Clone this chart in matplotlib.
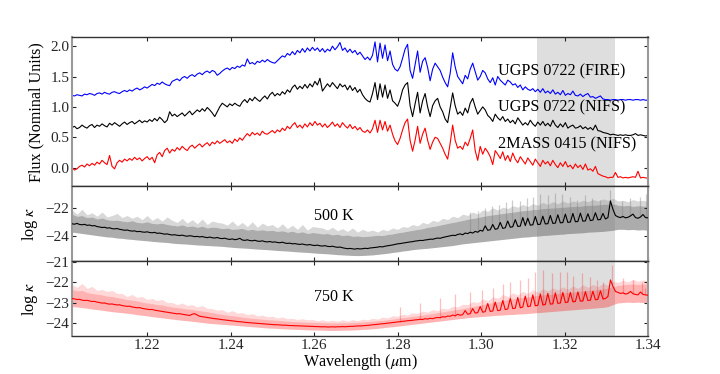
import numpy as np
import matplotlib
matplotlib.use('Agg')
from matplotlib import pyplot as plt
from matplotlib.ticker import FormatStrFormatter

# ---- spectra (top panel), sampled every 0.0006 um from 1.202 to 1.340 ----
fire_0722 = [1.19, 1.18, 1.20, 1.19, 1.18, 1.21, 1.20, 1.22, 1.21, 1.19, 1.22,
             1.23, 1.21, 1.24, 1.22, 1.21, 1.24, 1.25, 1.23, 1.22, 1.25,
             1.27, 1.25, 1.28, 1.26, 1.29, 1.31, 1.28, 1.30, 1.33, 1.31,
             1.34, 1.37, 1.35, 1.39, 1.37, 1.41, 1.38, 1.36, 1.35, 1.42,
             1.44, 1.46, 1.43, 1.48, 1.50, 1.47, 1.51, 1.53, 1.50, 1.54,
             1.56, 1.53, 1.57, 1.59, 1.56, 1.60, 1.58, 1.52, 1.55, 1.59,
             1.62, 1.64, 1.61, 1.65, 1.63, 1.67, 1.65, 1.69, 1.67, 1.79,
             1.71, 1.73, 1.70, 1.75, 1.73, 1.77, 1.74, 1.78, 1.75, 1.73,
             1.72, 1.76, 1.80, 1.84, 1.82, 1.88, 1.85, 1.91, 1.86, 1.93,
             1.89, 1.96, 1.90, 1.97, 1.92, 1.98, 1.93, 1.97, 1.91, 1.96,
             1.90, 1.95, 1.92, 2.00, 1.94, 1.99, 2.06, 1.93, 1.97, 1.90,
             1.95, 1.89, 1.93, 1.86, 1.90, 1.84, 1.78, 1.82, 1.77, 1.85,
             2.07, 1.74, 2.05, 1.80, 2.02, 1.76, 1.92, 1.70, 1.62, 1.59,
             1.66, 1.80, 1.95, 2.03, 1.60, 1.47, 1.70, 1.92, 1.57, 1.75,
             1.81, 1.65, 1.43, 1.62, 1.72, 1.66, 1.60, 1.49, 1.40, 1.33,
             1.55, 1.89, 1.66, 1.50, 1.44, 1.38, 1.52, 1.46, 1.62, 1.72,
             1.58, 1.44, 1.50, 1.60, 1.56, 1.46, 1.40, 1.48, 1.36, 1.50,
             1.44, 1.40, 1.36, 1.44, 1.41, 1.36, 1.38, 1.32, 1.36, 1.28,
             1.33, 1.29, 1.27, 1.30, 1.25, 1.29, 1.24, 1.30, 1.23, 1.26,
             1.22, 1.28, 1.21, 1.24, 1.20, 1.27, 1.19, 1.22, 1.20, 1.26,
             1.19, 1.18, 1.21, 1.17, 1.20, 1.22, 1.16, 1.17, 1.14, 1.16,
             1.18, 1.13, 1.12, 1.12, 1.11, 1.12, 1.12, 1.11, 1.12, 1.12,
             1.11, 1.12, 1.12, 1.11, 1.12, 1.12, 1.11, 1.12, 1.11, 1.11]

nifs_0722 = [0.66, 0.68, 0.64, 0.66, 0.70, 0.67, 0.65, 0.69, 0.71, 0.66, 0.70,
             0.68, 0.72, 0.69, 0.67, 0.73, 0.70, 0.74, 0.71, 0.68, 0.72,
             0.75, 0.71, 0.74, 0.76, 0.72, 0.75, 0.78, 0.74, 0.77, 0.75,
             0.79, 0.76, 0.81, 0.77, 0.83, 0.79, 0.74, 0.78, 0.92, 0.85,
             0.88, 0.84, 0.87, 0.90, 0.85, 0.89, 0.93, 0.87, 0.91, 0.95,
             0.92, 0.97, 0.93, 0.99, 0.95, 0.90, 0.84, 0.92, 1.00, 1.06,
             1.03, 1.00, 1.05, 1.02, 1.06, 1.03, 1.01, 1.08, 1.12, 1.07,
             1.14, 1.10, 1.16, 1.12, 1.09, 1.14, 1.18, 1.13, 1.20, 1.24,
             1.18, 1.22, 1.19, 1.25, 1.21, 1.28, 1.24, 1.32, 1.36, 1.29,
             1.34, 1.30, 1.37, 1.31, 1.38, 1.33, 1.42, 1.36, 1.47, 1.26,
             1.32, 1.38, 1.33, 1.40, 1.35, 1.30, 1.38, 1.33, 1.36, 1.28,
             1.35, 1.27, 1.32, 1.24, 1.29, 1.20, 1.14, 1.10, 1.08, 1.22,
             1.40, 1.12, 1.38, 1.16, 1.36, 1.14, 1.28, 1.10, 1.06, 1.01,
             1.12, 1.28, 1.36, 1.40, 1.02, 0.84, 1.05, 1.24, 0.90, 1.10,
             1.22, 1.00, 0.84, 1.02, 1.10, 1.14, 1.00, 0.92, 0.80, 0.74,
             0.98, 1.23, 1.02, 0.88, 0.92, 0.86, 0.98, 0.90, 1.06, 1.14,
             1.00, 0.88, 0.94, 1.00, 0.95, 0.86, 0.82, 0.76, 0.88, 0.82,
             0.78, 0.84, 0.76, 0.80, 0.74, 0.78, 0.72, 0.82, 0.76, 0.70,
             0.74, 0.70, 0.78, 0.72, 0.68, 0.75, 0.70, 0.76, 0.69, 0.73,
             0.68, 0.78, 0.70, 0.66, 0.72, 0.67, 0.74, 0.65, 0.68, 0.70,
             0.65, 0.66, 0.69, 0.64, 0.67, 0.63, 0.66, 0.62, 0.70, 0.61,
             0.60, 0.58, 0.57, 0.56, 0.54, 0.55, 0.54, 0.53, 0.54, 0.53,
             0.54, 0.53, 0.53, 0.54, 0.56, 0.53, 0.54, 0.53, 0.52, 0.53]

nifs_0415 = [0.00, -0.04, -0.02, 0.02, 0.04, 0.01, 0.06, 0.03, 0.07, 0.04, 0.09,
             0.06, 0.12, 0.08, 0.05, 0.20, 0.02, -0.02, 0.08, 0.12, 0.09,
             0.14, 0.11, 0.15, 0.12, 0.17, 0.13, 0.16, 0.11, 0.15, 0.18,
             0.13, 0.17, 0.08, 0.21, 0.25, 0.18, 0.28, 0.32, 0.24, 0.30,
             0.27, 0.33, 0.29, 0.35, 0.31, 0.28, 0.34, 0.37, 0.32, 0.36,
             0.39, 0.34, 0.38, 0.41, 0.36, 0.42, 0.39, 0.44, 0.40, 0.43,
             0.46, 0.41, 0.44, 0.40, 0.47, 0.43, 0.49, 0.45, 0.51, 0.56,
             0.52, 0.58, 0.54, 0.57, 0.53, 0.60, 0.56, 0.55, 0.58, 0.61,
             0.57, 0.62, 0.59, 0.65, 0.61, 0.68, 0.64, 0.70, 0.74, 0.66,
             0.70, 0.65, 0.72, 0.67, 0.74, 0.69, 0.76, 0.70, 0.73, 0.67,
             0.72, 0.66, 0.70, 0.75, 0.68, 0.72, 0.66, 0.74, 0.69, 0.65,
             0.71, 0.64, 0.68, 0.62, 0.66, 0.60, 0.58, 0.62, 0.57, 0.64,
             0.78, 0.58, 0.78, 0.62, 0.76, 0.60, 0.70, 0.55, 0.44, 0.38,
             0.48, 0.62, 0.74, 0.80, 0.45, 0.27, 0.45, 0.68, 0.40, 0.55,
             0.65, 0.45, 0.30, 0.42, 0.50, 0.48, 0.40, 0.32, 0.22, 0.14,
             0.40, 0.70, 0.45, 0.32, 0.35, 0.30, 0.42, 0.36, 0.48, 0.62,
             0.28, 0.12, 0.35, 0.22, 0.32, 0.26, 0.18, 0.05, 0.28, 0.22,
             0.15, 0.26, 0.12, 0.20, 0.10, 0.24, 0.14, 0.08, 0.18, 0.12,
             0.06, 0.16, 0.10, 0.04, 0.14, 0.08, 0.02, 0.12, 0.06, 0.10,
             0.03, 0.12, 0.05, 0.00, 0.08, 0.02, 0.10, 0.01, 0.04, -0.02,
             0.06, 0.00, 0.04, -0.03, 0.06, -0.04, -0.02, -0.06, 0.02, -0.10,
             -0.12, -0.14, -0.15, -0.17, -0.16, -0.16, -0.08, -0.16, -0.15, -0.17,
             -0.16, -0.17, -0.16, -0.15, -0.16, -0.06, -0.17, -0.16, -0.17, -0.17]

# ---- smoothed opacity, log kappa (same 0.0006 um grid) ----
kappa_500 = [-23.15, -23.18, -23.12, -23.20, -23.22, -23.19, -23.26, -23.24, -23.30, -23.28, -23.35,
             -23.38, -23.42, -23.40, -23.46, -23.44, -23.50, -23.52, -23.49, -23.55, -23.58,
             -23.62, -23.60, -23.65, -23.68, -23.66, -23.72, -23.70, -23.74, -23.76, -23.73,
             -23.78, -23.80, -23.77, -23.84, -23.82, -23.86, -23.90, -23.88, -23.93, -23.96,
             -23.94, -23.98, -24.00, -23.97, -24.02, -24.05, -24.01, -24.04, -24.08, -24.06,
             -24.10, -24.07, -24.12, -24.15, -24.11, -24.16, -24.18, -24.14, -24.20, -24.22,
             -24.19, -24.25, -24.28, -24.24, -24.30, -24.27, -24.20, -24.32, -24.35, -24.31,
             -24.36, -24.38, -24.34, -24.40, -24.42, -24.38, -24.44, -24.46, -24.43, -24.48,
             -24.46, -24.50, -24.52, -24.48, -24.54, -24.57, -24.55, -24.60, -24.58, -24.62,
             -24.64, -24.61, -24.66, -24.68, -24.65, -24.70, -24.72, -24.69, -24.74, -24.76,
             -24.73, -24.78, -24.80, -24.77, -24.82, -24.85, -24.83, -24.88, -24.92, -24.95,
             -24.93, -24.96, -24.98, -24.94, -24.97, -24.95, -24.92, -24.94, -24.90, -24.88,
             -24.86, -24.84, -24.80, -24.82, -24.77, -24.74, -24.71, -24.68, -24.64, -24.60,
             -24.58, -24.55, -24.52, -24.49, -24.46, -24.44, -24.40, -24.38, -24.35, -24.36,
             -24.32, -24.30, -24.26, -24.27, -24.22, -24.18, -24.20, -24.14, -24.10, -24.06,
             -24.02, -23.98, -24.00, -23.92, -23.88, -23.94, -23.82, -23.86, -23.76, -23.82,
             -23.70, -23.76, -23.62, -23.68, -23.30, -23.62, -23.58, -23.20, -23.55, -23.50,
             -23.05, -23.48, -23.44, -22.95, -23.40, -23.36, -22.85, -23.34, -23.32, -22.70,
             -23.28, -22.75, -23.25, -23.22, -22.62, -23.20, -23.18, -22.60, -23.16, -23.14,
             -22.55, -23.12, -23.10, -22.50, -23.08, -23.06, -22.45, -23.05, -23.02, -22.40,
             -23.00, -22.98, -22.38, -22.96, -22.94, -22.42, -22.92, -22.88, -22.35, -22.86,
             -22.84, -22.40, -22.80, -22.70, -21.50, -22.10, -22.55, -22.65, -22.70, -22.62,
             -22.72, -22.68, -22.58, -22.45, -22.70, -22.75, -22.66, -22.48, -22.70, -22.72]

kappa_750 = [-22.80, -22.82, -22.85, -22.84, -22.88, -22.90, -22.89, -22.92, -22.95, -22.94, -22.98,
             -23.00, -23.03, -23.02, -23.06, -23.08, -23.07, -23.10, -23.12, -23.11, -23.15,
             -23.17, -23.19, -23.18, -23.22, -23.24, -23.26, -23.25, -23.29, -23.31, -23.33,
             -23.35, -23.34, -23.38, -23.40, -23.42, -23.44, -23.46, -23.48, -23.50, -23.52,
             -23.54, -23.56, -23.55, -23.58, -23.60, -23.62, -23.64, -23.58, -23.55, -23.62,
             -23.68, -23.70, -23.72, -23.74, -23.76, -23.78, -23.80, -23.81, -23.83, -23.85,
             -23.86, -23.88, -23.89, -23.91, -23.92, -23.94, -23.95, -23.96, -23.98, -23.99,
             -24.00, -24.01, -24.02, -24.03, -24.04, -24.05, -24.06, -24.07, -24.08, -24.09,
             -24.10, -24.10, -24.11, -24.12, -24.12, -24.13, -24.14, -24.14, -24.15, -24.15,
             -24.16, -24.16, -24.17, -24.17, -24.18, -24.18, -24.19, -24.19, -24.20, -24.20,
             -24.20, -24.21, -24.21, -24.20, -24.21, -24.20, -24.20, -24.19, -24.20, -24.19,
             -24.18, -24.18, -24.17, -24.16, -24.16, -24.15, -24.14, -24.13, -24.12, -24.10,
             -24.09, -24.08, -24.06, -24.05, -24.04, -24.02, -24.01, -23.99, -23.98, -23.96,
             -23.95, -23.93, -23.92, -23.90, -23.89, -23.88, -23.86, -23.85, -23.83, -23.84,
             -23.80, -23.82, -23.78, -23.80, -23.76, -23.74, -23.75, -23.70, -23.72, -23.67,
             -23.68, -23.62, -23.66, -23.58, -23.63, -23.60, -23.40, -23.58, -23.55, -23.30,
             -23.52, -23.50, -23.20, -23.48, -23.45, -23.05, -23.44, -23.42, -22.98, -23.40,
             -23.38, -22.90, -23.35, -23.32, -22.80, -23.30, -23.28, -22.75, -23.26, -23.22,
             -22.68, -23.20, -23.18, -22.62, -23.16, -23.14, -22.58, -23.12, -23.10, -22.55,
             -23.08, -23.06, -22.52, -23.04, -23.02, -22.50, -23.00, -22.98, -22.50, -22.96,
             -22.95, -22.48, -22.93, -22.92, -22.46, -22.90, -22.88, -22.44, -22.86, -22.84,
             -22.42, -22.82, -22.80, -22.70, -21.88, -22.20, -22.45, -22.50, -22.55, -22.52,
             -22.58, -22.55, -22.45, -22.56, -22.60, -22.62, -22.48, -22.60, -22.62, -22.64]

# ---- full resolution opacity envelope (0.0012 um grid) ----
band500_hi = [-22.45, -22.60, -22.55, -22.70, -22.65, -22.80, -22.72, -22.85, -22.90, -22.88,
              -22.95, -23.00, -22.92, -23.05, -23.08, -23.00, -23.12, -23.15, -23.10, -23.20,
              -23.25, -23.30, -23.22, -23.35, -23.30, -23.40, -23.32, -23.45, -23.38, -23.42,
              -23.50, -23.45, -23.55, -23.52, -23.48, -23.60, -23.55, -23.62, -23.58, -23.65,
              -23.62, -23.70, -23.65, -23.75, -23.68, -23.80, -23.72, -23.85, -23.78, -23.82,
              -23.88, -23.85, -23.95, -23.90, -24.00, -23.95, -24.05, -24.02, -24.08, -24.05,
              -24.02, -23.98, -24.00, -23.92, -23.88, -23.80, -23.75, -23.68, -23.62, -23.55,
              -23.50, -23.40, -23.35, -23.28, -23.20, -23.12, -23.05, -22.98, -22.90, -22.82,
              -22.75, -22.70, -22.62, -22.55, -22.50, -22.45, -22.40, -22.35, -22.30, -22.25,
              -22.20, -22.18, -22.12, -22.10, -22.05, -22.02, -22.00, -21.98, -21.95, -21.92,
              -21.90, -21.88, -21.85, -21.82, -21.80, -21.78, -21.75, -21.72, -21.70, -21.80,
              -21.85, -21.82, -21.88, -21.84, -21.86, -21.90]
band500_lo = [-23.75, -23.80, -23.85, -23.90, -23.95, -24.00, -24.05, -24.10, -24.12, -24.18,
              -24.20, -24.25, -24.28, -24.32, -24.35, -24.38, -24.42, -24.45, -24.48, -24.50,
              -24.55, -24.58, -24.60, -24.62, -24.65, -24.68, -24.70, -24.72, -24.74, -24.76,
              -24.78, -24.82, -24.85, -24.88, -24.90, -24.92, -24.95, -24.98, -25.00, -25.02,
              -25.05, -25.08, -25.10, -25.12, -25.15, -25.18, -25.20, -25.22, -25.25, -25.28,
              -25.30, -25.32, -25.35, -25.38, -25.40, -25.42, -25.44, -25.45, -25.44, -25.42,
              -25.40, -25.36, -25.32, -25.28, -25.22, -25.18, -25.12, -25.08, -25.02, -24.98,
              -24.95, -24.92, -24.88, -24.84, -24.80, -24.76, -24.72, -24.66, -24.60, -24.56,
              -24.52, -24.48, -24.44, -24.40, -24.36, -24.32, -24.28, -24.24, -24.20, -24.16,
              -24.12, -24.10, -24.06, -24.04, -24.00, -23.98, -23.95, -23.92, -23.90, -23.86,
              -23.84, -23.82, -23.80, -23.76, -23.74, -23.72, -23.70, -23.66, -23.62, -23.55,
              -23.55, -23.58, -23.56, -23.60, -23.58, -23.62]
# light spiky fringe above the envelope
fringe500 = [-22.15, -22.45, -22.10, -22.50, -22.35, -22.60, -22.30, -22.65, -22.55, -22.40,
             -22.70, -22.55, -22.75, -22.60, -22.85, -22.55, -22.90, -22.70, -22.95, -22.65,
             -22.90, -23.05, -22.75, -23.10, -22.85, -23.15, -22.80, -23.20, -22.95, -23.05,
             -23.10, -23.25, -22.95, -23.30, -23.05, -23.35, -23.00, -23.40, -23.10, -23.30,
             -23.20, -23.45, -23.15, -23.50, -23.25, -23.55, -23.20, -23.60, -23.35, -23.40,
             -23.45, -23.60, -23.40, -23.65, -23.50, -23.70, -23.45, -23.75, -23.55, -23.70,
             -23.60, -23.75, -23.55, -23.65, -23.45, -23.55, -23.35, -23.40, -23.20, -23.30,
             -23.05, -23.15, -22.90, -23.00, -22.75, -22.85, -22.60, -22.70, -22.45, -22.55,
             -22.30, -22.45, -22.15, -22.25, -22.00, -22.15, -21.95, -22.05, -21.85, -21.95,
             -21.75, -21.90, -21.70, -21.80, -21.60, -21.75, -21.55, -21.70, -21.50, -21.65,
             -21.50, -21.60, -21.45, -21.55, -21.40, -21.50, -21.35, -21.45, -21.30, -21.50,
             -21.45, -21.55, -21.40, -21.50, -21.45, -21.55]

band750_hi = [-22.35, -22.42, -22.40, -22.50, -22.55, -22.58, -22.62, -22.68, -22.70, -22.75,
              -22.80, -22.85, -22.88, -22.92, -22.98, -23.02, -23.05, -23.10, -23.12, -23.18,
              -23.22, -23.25, -23.28, -23.32, -23.35, -23.38, -23.42, -23.45, -23.50, -23.55,
              -23.58, -23.62, -23.65, -23.68, -23.72, -23.75, -23.78, -23.80, -23.82, -23.85,
              -23.86, -23.88, -23.90, -23.92, -23.94, -23.95, -23.96, -23.97, -23.98, -23.99,
              -24.00, -24.00, -24.01, -24.01, -24.00, -24.00, -23.99, -23.98, -23.96, -23.94,
              -23.92, -23.90, -23.88, -23.85, -23.82, -23.78, -23.75, -23.72, -23.68, -23.65,
              -23.62, -23.58, -23.54, -23.50, -23.46, -23.42, -23.38, -23.34, -23.30, -23.25,
              -23.20, -23.15, -23.10, -23.05, -23.00, -22.95, -22.90, -22.85, -22.82, -22.78,
              -22.75, -22.72, -22.68, -22.65, -22.62, -22.60, -22.58, -22.55, -22.52, -22.50,
              -22.48, -22.45, -22.42, -22.40, -22.38, -22.36, -22.32, -22.28, -22.20, -22.15,
              -22.12, -22.10, -22.08, -22.10, -22.08, -22.06]
band750_lo = [-23.20, -23.22, -23.25, -23.28, -23.32, -23.35, -23.38, -23.42, -23.45, -23.48,
              -23.50, -23.53, -23.56, -23.60, -23.63, -23.66, -23.70, -23.73, -23.76, -23.79,
              -23.82, -23.85, -23.88, -23.90, -23.93, -23.96, -23.99, -24.02, -24.04, -24.06,
              -24.08, -24.10, -24.12, -24.14, -24.16, -24.18, -24.20, -24.22, -24.24, -24.26,
              -24.27, -24.28, -24.30, -24.31, -24.32, -24.33, -24.34, -24.35, -24.36, -24.36,
              -24.37, -24.38, -24.38, -24.38, -24.37, -24.37, -24.36, -24.35, -24.33, -24.32,
              -24.30, -24.28, -24.25, -24.22, -24.20, -24.17, -24.14, -24.11, -24.08, -24.05,
              -24.02, -23.99, -23.96, -23.93, -23.90, -23.87, -23.84, -23.81, -23.78, -23.75,
              -23.73, -23.71, -23.69, -23.67, -23.65, -23.63, -23.62, -23.60, -23.59, -23.57,
              -23.56, -23.54, -23.52, -23.50, -23.48, -23.46, -23.44, -23.42, -23.40, -23.38,
              -23.36, -23.34, -23.32, -23.30, -23.28, -23.26, -23.24, -23.20, -23.10, -23.02,
              -23.00, -22.98, -23.00, -22.98, -23.00, -22.98]
fringe750 = [-22.10, -22.25, -22.05, -22.30, -22.20, -22.40, -22.35, -22.45, -22.40, -22.55,
             -22.55, -22.70, -22.60, -22.75, -22.70, -22.85, -22.80, -22.90, -22.85, -23.00,
             -23.00, -23.10, -23.02, -23.15, -23.10, -23.22, -23.15, -23.28, -23.30, -23.38,
             -23.35, -23.48, -23.40, -23.52, -23.50, -23.60, -23.55, -23.66, -23.62, -23.70,
             -23.68, -23.76, -23.72, -23.80, -23.78, -23.84, -23.80, -23.86, -23.84, -23.90,
             -23.86, -23.92, -23.88, -23.93, -23.86, -23.92, -23.85, -23.90, -23.82, -23.86,
             -23.78, -23.82, -23.72, -23.76, -23.65, -23.68, -23.58, -23.62, -23.50, -23.55,
             -23.42, -23.48, -23.35, -23.40, -23.28, -23.32, -23.18, -23.22, -23.08, -23.10,
             -22.95, -23.00, -22.82, -22.90, -22.72, -22.78, -22.60, -22.70, -22.52, -22.62,
             -22.45, -22.55, -22.38, -22.48, -22.32, -22.42, -22.28, -22.38, -22.22, -22.35,
             -22.18, -22.30, -22.12, -22.25, -22.10, -22.22, -22.05, -22.15, -21.95, -22.00,
             -21.90, -21.98, -21.85, -21.95, -21.88, -21.92]

# narrow lines sticking out of the envelope: wavelength, peak log kappa
spike500_wl = [1.2974, 1.2993, 1.3009, 1.3026, 1.3043, 1.3060, 1.3074, 1.3093, 1.3110,
               1.3124, 1.3141, 1.3160, 1.3177, 1.3194, 1.3213, 1.3230, 1.3249, 1.3266,
               1.3285, 1.3309, 1.3338, 1.3357, 1.3381, 1.3395]
spike500_top = [-22.3, -22.2, -22.0, -21.9, -21.8, -21.6, -21.4, -21.5, -21.3,
                -21.2, -21.0, -21.1, -20.9, -21.0, -21.2, -21.4, -21.1, -21.3,
                -21.4, -20.7, -21.5, -21.3, -21.2, -21.0]
spike750_wl = [1.2806, 1.2854, 1.2902, 1.2938, 1.2974, 1.3002, 1.3029, 1.3053, 1.3069,
               1.3093, 1.3112, 1.3129, 1.3148, 1.3170, 1.3189, 1.3206, 1.3220, 1.3242,
               1.3261, 1.3278, 1.3292, 1.3314, 1.3340, 1.3364, 1.3386, 1.3393]
spike750_top = [-23.2, -23.0, -22.8, -22.6, -22.5, -22.4, -22.3, -22.1, -21.97,
                -21.9, -21.8, -21.5, -21.4, -21.55, -21.5, -21.5, -21.7, -21.55,
                -21.75, -21.9, -22.0, -21.15, -21.8, -21.9, -22.0, -22.3]

labels = ['UGPS 0722 (FIRE)', 'UGPS 0722 (NIFS)', '2MASS 0415 (NIFS)']
label_y = [1.59, 0.99, 0.39]
span = (1.3134, 1.3320)

wl = np.linspace(1.202, 1.340, len(fire_0722))
wl_band = np.linspace(1.202, 1.340, len(band500_hi))

plt.rcParams['font.family'] = ['Liberation Serif', 'DejaVu Serif']
plt.rcParams['mathtext.fontset'] = 'stix'
plt.rcParams['font.size'] = 11
plt.rcParams['xtick.direction'] = 'in'
plt.rcParams['ytick.direction'] = 'in'
plt.rcParams['xtick.top'] = True
plt.rcParams['ytick.right'] = True

fig = plt.figure(figsize=(7.2, 3.74), dpi=100)
gs = fig.add_gridspec(3, 1, height_ratios=[2, 1, 1], hspace=0,
                      left=0.1, right=0.9, top=0.901, bottom=0.102)
ax1 = fig.add_subplot(gs[0])
ax2 = fig.add_subplot(gs[1], sharex=ax1)
ax3 = fig.add_subplot(gs[2], sharex=ax1)

for ax in (ax1, ax2, ax3):
    ax.axvspan(span[0], span[1], color='0.87', lw=0, zorder=0)
    ax.tick_params(length=3, width=0.8, colors='0.15', pad=2)
    for side in ('left', 'right'):
        ax.spines[side].set_color('0.6')
        ax.spines[side].set_linewidth(1.5)
    for side in ('top', 'bottom'):
        ax.spines[side].set_color('0.2')
        ax.spines[side].set_linewidth(1.0)

# top: observed spectra
ax1.plot(wl, fire_0722, color='blue', lw=0.8)
ax1.plot(wl, nifs_0722, color='black', lw=0.8)
ax1.plot(wl, nifs_0415, color='red', lw=0.8)
for txt, yy in zip(labels, label_y):
    ax1.text(1.3041, yy, txt, va='center', ha='left', fontsize=11.6, zorder=5)
ax1.set_ylim(-0.31, 2.15)
ax1.set_yticks([0.0, 0.5, 1.0, 1.5, 2.0])
ax1.yaxis.set_major_formatter(FormatStrFormatter('%.1f'))
ax1.set_ylabel('Flux (Nominal Units)', fontsize=11.6)
plt.setp(ax1.get_xticklabels(), visible=False)

# middle: 500 K opacity
k500_base = np.interp(spike500_wl, wl, kappa_500)
ax2.fill_between(wl_band, band500_hi, fringe500, color='gray', alpha=0.3, lw=0, zorder=1)
ax2.fill_between(wl_band, band500_lo, band500_hi, color='gray', alpha=0.65, lw=0, zorder=1)
ax2.vlines(spike500_wl, k500_base, spike500_top, color='gray', alpha=0.4, lw=0.9, zorder=1)
ax2.plot(wl, kappa_500, color='black', lw=0.8, zorder=3)
ax2.text(0.455, 0.61, '500 K', transform=ax2.transAxes, ha='center', va='center',
         fontsize=11.6)
ax2.set_ylim(-25.85, -20.45)
ax2.set_yticks([-24, -22])
ax2.set_ylabel(r'log $\kappa$', fontsize=11.6)
plt.setp(ax2.get_xticklabels(), visible=False)

# bottom: 750 K opacity
k750_base = np.interp(spike750_wl, wl, kappa_750)
ax3.fill_between(wl_band, band750_hi, fringe750, color='red', alpha=0.15, lw=0, zorder=1)
ax3.fill_between(wl_band, band750_lo, band750_hi, color='red', alpha=0.3, lw=0, zorder=1)
ax3.vlines(spike750_wl, k750_base, spike750_top, color='red', alpha=0.25, lw=0.9, zorder=1)
ax3.plot(wl, kappa_750, color='red', lw=0.8, zorder=3)
ax3.text(0.455, 0.52, '750 K', transform=ax3.transAxes, ha='center', va='center',
         fontsize=11.6)
ax3.set_ylim(-24.65, -20.95)
ax3.set_yticks([-24, -23, -22, -21])
ax3.set_ylabel(r'log $\kappa$', fontsize=11.6)

ax3.set_xlim(1.202, 1.340)
ax3.set_xticks([1.22, 1.24, 1.26, 1.28, 1.30, 1.32, 1.34])
ax3.xaxis.set_major_formatter(FormatStrFormatter('%.2f'))
ax3.set_xlabel(r'Wavelength ($\mu$m)', fontsize=11.6, labelpad=0)

fig.savefig('out.png', dpi=100)
